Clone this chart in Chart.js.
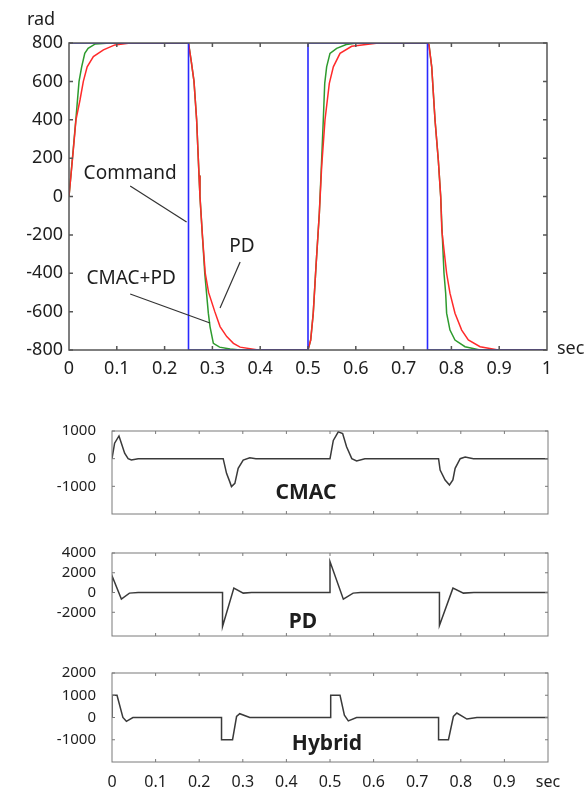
<!DOCTYPE html>
<html>
<head>
<meta charset="utf-8">
<script src="https://cdn.jsdelivr.net/npm/chart.js@4.4.1/dist/chart.umd.min.js"></script>
<style>
  body { margin: 0; background: #fff; }
  canvas { position: absolute; left: 0; }
</style>
</head>
<body>
<canvas id="posChart" width="587" height="392" style="top:0px"></canvas>
<canvas id="cmacChart" width="587" height="125" style="top:400px"></canvas>
<canvas id="pdChart" width="587" height="120" style="top:530px"></canvas>
<canvas id="hybridChart" width="587" height="146" style="top:650px"></canvas>
<script>
// ---- position response (rad) ----
var cmdT = [0, 0.25, 0.25, 0.5, 0.5, 0.75, 0.75, 1];
var cmdV = [800, 800, -800, -800, 800, 800, -800, -800];

var pdT = [0, 0.009, 0.0146, 0.023, 0.03, 0.038, 0.051, 0.072, 0.096, 0.128,
    0.25, 0.256, 0.2615, 0.267, 0.272, 0.274, 0.279, 0.285, 0.292, 0.305, 0.316, 0.33, 0.344, 0.358, 0.396,
    0.5, 0.5056, 0.511, 0.5167, 0.5237, 0.5286, 0.5356, 0.5446, 0.553, 0.567, 0.5914, 0.647,
    0.75, 0.7531, 0.7588, 0.7657, 0.7726, 0.7776, 0.78, 0.79, 0.797, 0.8075, 0.8215, 0.8354, 0.86, 0.898, 1];
var pdV = [0, 242, 400, 503, 600, 676, 729, 764, 790, 800,
    800, 700, 600, 400, 110, 0, -200, -400, -500, -600, -678, -730, -765, -785, -800,
    -800, -748, -608, -365, -87, 157, 400, 590, 676, 746, 783, 800,
    800, 790, 676, 400, 190, 0, -178, -400, -504, -608, -696, -748, -783, -800, -800];

var cpT = [0, 0.009, 0.015, 0.021, 0.0265, 0.033, 0.04, 0.055, 0.086,
    0.25, 0.256, 0.2615, 0.267, 0.272, 0.274, 0.279, 0.284, 0.2915, 0.295, 0.302, 0.315, 0.337, 0.358,
    0.5, 0.5056, 0.511, 0.5167, 0.5237, 0.528, 0.532, 0.535, 0.539, 0.546, 0.56, 0.58, 0.602,
    0.75, 0.7531, 0.7588, 0.7657, 0.7726, 0.7776, 0.7805, 0.7845, 0.788, 0.79, 0.797, 0.8075, 0.8285, 0.86, 1];
var cpV = [0, 250, 420, 600, 676, 746, 772, 795, 800,
    800, 700, 600, 400, 110, 0, -200, -400, -608, -678, -765, -785, -795, -800,
    -800, -748, -608, -365, -87, 157, 400, 590, 676, 746, 772, 792, 800,
    800, 790, 676, 400, 190, 0, -178, -400, -504, -608, -696, -748, -783, -800, -800];

// ---- control signals ----
var cmacT = [0, 0.006, 0.016, 0.0215, 0.029, 0.037, 0.0445, 0.06,
    0.255, 0.2627, 0.27, 0.274, 0.2818, 0.2894, 0.3009, 0.316, 0.33,
    0.5, 0.5076, 0.519, 0.529, 0.538, 0.55, 0.561, 0.58,
    0.749, 0.7526, 0.764, 0.774, 0.7818, 0.787, 0.7986, 0.81, 0.829, 1];
var cmacV = [0, 560, 820, 560, 195, 0, -50, 0,
    0, -530, -830, -1010, -890, -350, -50, 35, 0,
    0, 660, 970, 910, 430, 0, -80, 0,
    0, -410, -770, -950, -770, -350, 0, 60, 0, 0];

var pdoT = [0, 0, 0.0215, 0.04, 0.06,
    0.2535, 0.2535, 0.2795, 0.301, 0.32,
    0.5, 0.5, 0.5306, 0.553, 0.57,
    0.751, 0.751, 0.782, 0.806, 0.83, 1];
var pdoV = [0, 1690, -670, -60, 0,
    0, -3440, 445, -60, 0,
    0, 3140, -670, -60, 0,
    0, -3340, 445, -60, 0, 0];

var hybT = [0, 0, 0.0115, 0.025, 0.033, 0.048,
    0.2512, 0.2512, 0.2765, 0.2857, 0.293, 0.316,
    0.5016, 0.5016, 0.523, 0.533, 0.542, 0.561,
    0.749, 0.749, 0.7717, 0.783, 0.791, 0.814, 0.837, 1];
var hybV = [0, 1000, 1000, 0, -170, 0,
    0, -1000, -1000, 45, 170, 0,
    0, 1000, 1000, 100, -150, 0,
    0, -1000, -1000, 45, 200, -70, 0, 0];

// tick values
var xTickVals = [0.1, 0.2, 0.3, 0.4, 0.5, 0.6, 0.7, 0.8, 0.9];
var posTicks = [-800, -600, -400, -200, 0, 200, 400, 600, 800];
var cmacTicks = [-1000, 0, 1000];
var pdTicks = [-2000, 0, 2000, 4000];
var hybTicks = [-1000, 0, 1000, 2000];

var FONT = "'Noto Sans', 'Open Sans', sans-serif";
var TXT = '#1e1e1e';

function pts(t, v) {
    return t.map(function (x, i) { return { x: x, y: v[i] }; });
}

// frame with inward ticks + free text/leader lines
var framePlugin = {
    id: 'frame',
    afterDatasetsDraw: function (chart, args, o) {
        var ctx = chart.ctx, a = chart.chartArea;
        var x = chart.scales.x, y = chart.scales.y;
        ctx.save();
        ctx.strokeStyle = o.color;
        ctx.lineWidth = o.width;
        ctx.strokeRect(a.left, a.top, a.right - a.left, a.bottom - a.top);
        ctx.beginPath();
        o.xTicks.forEach(function (v) {
            var px = x.getPixelForValue(v);
            ctx.moveTo(px, a.bottom); ctx.lineTo(px, a.bottom - o.len);
            ctx.moveTo(px, a.top); ctx.lineTo(px, a.top + o.len);
        });
        o.yTicks.forEach(function (v) {
            var py = y.getPixelForValue(v);
            ctx.moveTo(a.left, py); ctx.lineTo(a.left + o.len, py);
            ctx.moveTo(a.right, py); ctx.lineTo(a.right - o.len, py);
        });
        ctx.stroke();

        ctx.strokeStyle = '#333';
        ctx.lineWidth = 1.2;
        (o.leaders || []).forEach(function (l) {
            ctx.beginPath();
            ctx.moveTo(x.getPixelForValue(l[0]), y.getPixelForValue(l[1]));
            ctx.lineTo(x.getPixelForValue(l[2]), y.getPixelForValue(l[3]));
            ctx.stroke();
        });
        ctx.fillStyle = TXT;
        ctx.textBaseline = 'middle';
        (o.texts || []).forEach(function (t) {
            ctx.font = t.font;
            ctx.textAlign = t.align || 'center';
            var px = t.px ? t.x : x.getPixelForValue(t.x);
            var py = t.px ? t.y : y.getPixelForValue(t.y);
            ctx.fillText(t.text, px, py);
        });
        ctx.restore();
    }
};

function makeChart(canvasId, datasets, cfg) {
    var ctx = document.getElementById(canvasId).getContext('2d');
    return new Chart(ctx, {
        type: 'line',
        data: { datasets: datasets },
        plugins: [framePlugin],
        options: {
            responsive: false,
            animation: false,
            layout: { padding: cfg.padding },
            plugins: { legend: { display: false }, tooltip: { enabled: false }, frame: cfg.frame },
            elements: { point: { radius: 0 } },
            scales: {
                x: {
                    type: 'linear', min: 0, max: 1,
                    grid: { display: false, drawTicks: false },
                    border: { display: false },
                    ticks: {
                        display: cfg.showX,
                        stepSize: 0.1, padding: cfg.xPad, color: TXT, maxRotation: 0,
                        font: { family: FONT, size: cfg.xFont },
                        callback: cfg.xLabel || function (v) { return String(Math.round(v * 10) / 10); }
                    },
                    afterFit: function (s) { s.height = cfg.xHeight; }
                },
                y: {
                    min: cfg.yMin, max: cfg.yMax,
                    grid: { display: false, drawTicks: false },
                    border: { display: false },
                    ticks: {
                        padding: cfg.yPad, color: TXT, font: { family: FONT, size: cfg.yFont },
                        callback: function (v) { return String(v); }
                    },
                    afterBuildTicks: function (s) {
                        s.ticks = cfg.yTicks.map(function (v) { return { value: v }; });
                    },
                    afterFit: function (s) {
                        s.width = cfg.yWidth;
                        s.paddingTop = 0;
                        s.paddingBottom = 0;
                    }
                }
            }
        }
    });
}

function line(data, color, width) {
    return { data: data, borderColor: color, borderWidth: width, fill: false, tension: 0 };
}

makeChart('posChart', [
    line(pts(cmdT, cmdV), '#2a2aff', 1.6),
    line(pts(pdT, pdV), '#ff2a2a', 1.5),
    line(pts(cpT, cpV), '#2e9b2e', 1.5)
], {
    padding: { top: 43, right: 40, bottom: 0, left: 0 },
    showX: true, xHeight: 42, xPad: 8, xFont: 18,
    yMin: -800, yMax: 800, yTicks: posTicks, yWidth: 69, yPad: 6, yFont: 18,
    frame: {
        color: '#555', width: 1.5, len: 4, xTicks: xTickVals, yTicks: posTicks,
        leaders: [[0.128, 55, 0.246, -133], [0.358, -341, 0.316, -581], [0.128, -508, 0.295, -659]],
        texts: [
            { text: 'Command', x: 0.128, y: 117, font: '19px ' + FONT },
            { text: 'PD', x: 0.362, y: -263, font: '19px ' + FONT },
            { text: 'CMAC+PD', x: 0.13, y: -430, font: '19px ' + FONT },
            { text: 'rad', x: 41, y: 20, px: true, font: '18px ' + FONT },
            { text: 'sec', x: 557, y: 349, px: true, align: 'left', font: '18px ' + FONT }
        ]
    }
});

var subFrame = { color: '#7a7a7a', width: 1, len: 3, xTicks: xTickVals };

makeChart('cmacChart', [line(pts(cmacT, cmacV), '#3a3a3a', 1.5)], {
    padding: { top: 31, right: 39, bottom: 0, left: 0 },
    showX: false, xHeight: 11, xPad: 0, xFont: 16,
    yMin: -2000, yMax: 1000, yTicks: cmacTicks, yWidth: 112, yPad: 16, yFont: 15,
    frame: Object.assign({}, subFrame, {
        yTicks: cmacTicks,
        texts: [{ text: 'CMAC', x: 0.445, y: -1240, font: 'bold 21px ' + FONT }]
    })
});

makeChart('pdChart', [line(pts(pdoT, pdoV), '#3a3a3a', 1.5)], {
    padding: { top: 23, right: 39, bottom: 0, left: 0 },
    showX: false, xHeight: 14, xPad: 0, xFont: 16,
    yMin: -4400, yMax: 4000, yTicks: pdTicks, yWidth: 112, yPad: 16, yFont: 15,
    frame: Object.assign({}, subFrame, {
        yTicks: pdTicks,
        texts: [{ text: 'PD', x: 0.438, y: -2965, font: 'bold 21px ' + FONT }]
    })
});

makeChart('hybridChart', [line(pts(hybT, hybV), '#3a3a3a', 1.5)], {
    padding: { top: 23, right: 39, bottom: 0, left: 0 },
    showX: true, xHeight: 34, xPad: 11, xFont: 16,
    xLabel: function (v) { return v === 1 ? 'sec' : String(Math.round(v * 10) / 10); },
    yMin: -2000, yMax: 2000, yTicks: hybTicks, yWidth: 112, yPad: 16, yFont: 15,
    frame: Object.assign({}, subFrame, {
        yTicks: hybTicks,
        texts: [{ text: 'Hybrid', x: 0.493, y: -1190, font: 'bold 21px ' + FONT }]
    })
});
</script>
</body>
</html>
